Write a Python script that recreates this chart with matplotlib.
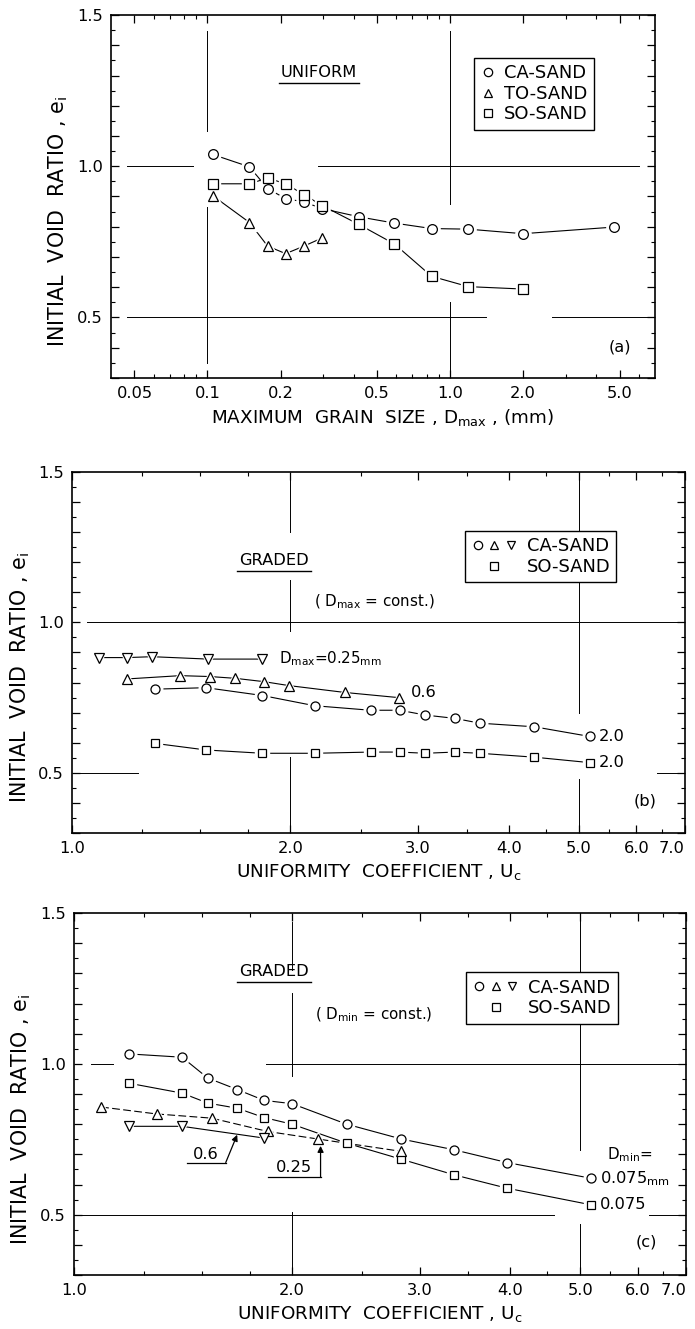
import matplotlib
matplotlib.use("Agg")
import matplotlib.pyplot as plt
from matplotlib import font_manager
from matplotlib.legend_handler import HandlerTuple
from matplotlib.lines import Line2D
from matplotlib.ticker import (FixedFormatter, FixedLocator, FuncFormatter,
                               MultipleLocator, NullFormatter)


def pick_font():
    for name in ("Liberation Sans Narrow", "DejaVu Sans"):
        try:
            font_manager.findfont(font_manager.FontProperties(family=name),
                                  fallback_to_default=False)
            return name
        except ValueError:
            continue
    return "DejaVu Sans"


FONT = pick_font()
K = 1.0 if FONT == "Liberation Sans Narrow" else 0.78

plt.rcParams["font.family"] = [FONT, "DejaVu Sans"]
plt.rcParams["mathtext.fontset"] = "custom"
plt.rcParams["mathtext.rm"] = FONT
plt.rcParams["mathtext.it"] = FONT

# ---------------------------------------------------------------------------
# (a) uniform sands: void ratio vs maximum grain size
# ---------------------------------------------------------------------------
dmax_ca = [0.105, 0.149, 0.177, 0.210, 0.250, 0.297, 0.420, 0.590, 0.840, 1.19, 2.0, 4.76]
e_ca_uni = [1.039, 0.998, 0.926, 0.893, 0.882, 0.860, 0.833, 0.812, 0.794, 0.792, 0.777, 0.799]
dmax_to = [0.105, 0.149, 0.177, 0.210, 0.250, 0.297]
e_to_uni = [0.903, 0.814, 0.736, 0.711, 0.736, 0.763]
dmax_so = [0.105, 0.149, 0.177, 0.210, 0.250, 0.297, 0.420, 0.590, 0.840, 1.19, 2.0]
e_so_uni = [0.942, 0.942, 0.961, 0.942, 0.906, 0.870, 0.808, 0.743, 0.636, 0.602, 0.594]

# ---------------------------------------------------------------------------
# (b) graded, Dmax = const.
# ---------------------------------------------------------------------------
uc_b_025 = [1.09, 1.19, 1.29, 1.54, 1.83]
e_b_025 = [0.883, 0.883, 0.886, 0.878, 0.878]
uc_b_06 = [1.19, 1.41, 1.55, 1.68, 1.84, 1.99, 2.38, 2.82]
e_b_06 = [0.812, 0.823, 0.820, 0.814, 0.803, 0.790, 0.767, 0.750]
uc_b_20 = [1.30, 1.53, 1.83, 2.16, 2.58, 2.83, 3.07, 3.37, 3.65, 4.34, 5.17]
e_b_ca20 = [0.778, 0.783, 0.757, 0.723, 0.708, 0.708, 0.692, 0.681, 0.665, 0.653, 0.621]
e_b_so20 = [0.598, 0.576, 0.565, 0.565, 0.569, 0.569, 0.565, 0.569, 0.565, 0.552, 0.534]

# ---------------------------------------------------------------------------
# (c) graded, Dmin = const.
# ---------------------------------------------------------------------------
uc_c = [1.19, 1.41, 1.53, 1.68, 1.83, 2.0, 2.38, 2.83, 3.35, 3.96, 5.17]
e_c_ca = [1.033, 1.022, 0.953, 0.915, 0.879, 0.868, 0.800, 0.751, 0.715, 0.673, 0.621]
e_c_so = [0.936, 0.903, 0.870, 0.853, 0.822, 0.800, 0.737, 0.684, 0.632, 0.588, 0.533]
uc_c_06 = [1.09, 1.30, 1.55, 1.85, 2.17, 2.83]
e_c_06 = [0.857, 0.834, 0.820, 0.776, 0.751, 0.710]
uc_c_025 = [1.19, 1.41, 1.83]
e_c_025 = [0.793, 0.793, 0.754]

# tick values / labels
a_xmajor = [0.05, 0.1, 0.2, 0.5, 1.0, 2.0, 5.0]
a_xlabels = ["0.05", "0.1", "0.2", "0.5", "1.0", "2.0", "5.0"]
a_xminor = [0.06, 0.07, 0.08, 0.09, 0.3, 0.4, 0.6, 0.7, 0.8, 0.9, 3, 4, 6]
uc_major = [1, 2, 3, 4, 5, 6, 7]
uc_labels = ["1.0", "2.0", "3.0", "4.0", "5.0", "6.0", "7.0"]
uc_minor = [1.25, 1.5, 1.75, 2.5, 3.5, 4.5, 5.5, 6.5]

YLABEL = "INITIAL  VOID  RATIO , e$_{\\rm i}$"


def style_axes(ax, xlim, xmajor, xlabels, xminor):
    ax.set_xscale("log")
    ax.set_xlim(*xlim)
    ax.set_ylim(0.3, 1.5)
    ax.xaxis.set_major_locator(FixedLocator(xmajor))
    ax.xaxis.set_major_formatter(FixedFormatter(xlabels))
    ax.xaxis.set_minor_locator(FixedLocator(xminor))
    ax.xaxis.set_minor_formatter(NullFormatter())
    ax.yaxis.set_major_locator(MultipleLocator(0.1))
    ax.yaxis.set_minor_locator(MultipleLocator(0.05))
    ax.yaxis.set_major_formatter(FuncFormatter(
        lambda v, p: f"{v:.1f}" if abs(v * 2 - round(v * 2)) < 1e-6 else ""))
    ax.tick_params(which="both", direction="in", top=True, right=True,
                   labelsize=15 * K)
    ax.tick_params(which="major", length=6, width=0.9, pad=6)
    ax.tick_params(which="minor", length=3, width=0.8)
    for s in ax.spines.values():
        s.set_linewidth(1.2)
    ax.set_ylabel(YLABEL, fontsize=19 * K)


def grid_h(ax, y, spans):
    for x0, x1 in spans:
        ax.axhline(y, x0, x1, color="black", lw=0.7, zorder=1)


def grid_v(ax, x, spans):
    for y0, y1 in spans:
        ax.axvline(x, y0, y1, color="black", lw=0.7, zorder=1)


def series(ax, x, y, marker, ms=6.5, ls="-"):
    ax.plot(x, y, color="black", lw=0.8, ls=ls, zorder=2)
    ax.plot(x, y, ls="none", marker=marker, ms=ms + 4, mfc="white",
            mec="white", zorder=3)
    ax.plot(x, y, ls="none", marker=marker, ms=ms, mfc="white",
            mec="black", mew=0.9, zorder=4)


def underlined(ax, x, y, s, size):
    t = ax.text(x, y, s, ha="center", va="center", fontsize=size, zorder=5)
    ax.figure.canvas.draw()
    bb = t.get_window_extent()
    inv = ax.transAxes.inverted()
    (x0, y0), (x1, _) = inv.transform([(bb.x0 - 2, bb.y0 - 3), (bb.x1 + 2, bb.y0)])
    ax.plot([x0, x1], [y0, y0], transform=ax.transAxes, color="black",
            lw=1.0, clip_on=False)


def marker_handle(m):
    return Line2D([], [], ls="none", marker=m, ms=6, mfc="white", mec="black",
                  mew=0.9)


def legend(ax, handles, labels, anchor, hlen, **kw):
    leg = ax.legend(handles, labels, loc="upper left", bbox_to_anchor=anchor,
                    borderaxespad=0, fancybox=False, edgecolor="black",
                    framealpha=1, fontsize=16.5 * K, handlelength=hlen,
                    handletextpad=0.5, labelspacing=0.15, borderpad=0.35, **kw)
    leg.get_frame().set_linewidth(1.0)


fig = plt.figure(figsize=(6.95, 13.29), dpi=100)
ax_a = fig.add_axes([0.1597, 0.7156, 0.7827, 0.2731])
ax_b = fig.add_axes([0.1036, 0.3732, 0.8820, 0.2717])
ax_c = fig.add_axes([0.1065, 0.0406, 0.8806, 0.2724])

# ---------------- panel (a) ----------------
style_axes(ax_a, (0.04, 7), a_xmajor, a_xlabels, a_xminor)
ax_a.yaxis.set_label_coords(-0.075, 0.43)
ax_a.set_xlabel("MAXIMUM  GRAIN  SIZE , D$_{\\rm max}$ , (mm)",
                fontsize=17 * K, labelpad=4)
grid_h(ax_a, 1.0, [(0.03, 0.15), (0.38, 0.97)])
grid_h(ax_a, 0.5, [(0.03, 0.69), (0.81, 0.99)])
grid_v(ax_a, 0.1, [(0.04, 0.47), (0.68, 0.955)])
grid_v(ax_a, 1.0, [(0.02, 0.21), (0.48, 0.955)])
series(ax_a, dmax_ca, e_ca_uni, "o", ms=7)
series(ax_a, dmax_to, e_to_uni, "^", ms=7)
series(ax_a, dmax_so, e_so_uni, "s", ms=6.5)
legend(ax_a, [marker_handle("o"), marker_handle("^"), marker_handle("s")],
       ["CA-SAND", "TO-SAND", "SO-SAND"], (0.668, 0.882), 0.8)
underlined(ax_a, 0.288, 1.309, "UNIFORM", 15 * K)
ax_a.text(0.935, 0.085, "(a)", transform=ax_a.transAxes, ha="center",
          va="center", fontsize=15 * K)

# ---------------- panel (b) ----------------
style_axes(ax_b, (1, 7), uc_major, uc_labels, uc_minor)
ax_b.yaxis.set_label_coords(-0.065, 0.43)
ax_b.set_xlabel("UNIFORMITY  COEFFICIENT , U$_{\\rm c}$", fontsize=17 * K,
                labelpad=4)
grid_h(ax_b, 1.0, [(0.024, 0.995)])
grid_h(ax_b, 0.5, [(0.013, 0.108), (0.954, 1.0)])
grid_v(ax_b, 2.0, [(0.833, 0.99), (0.56, 0.70), (0.02, 0.21)])
grid_v(ax_b, 5.0, [(0.0, 0.15), (0.333, 1.0)])
series(ax_b, uc_b_025, e_b_025, "v")
series(ax_b, uc_b_06, e_b_06, "^")
series(ax_b, uc_b_20, e_b_ca20, "o")
series(ax_b, uc_b_20, e_b_so20, "s", ms=6)
legend(ax_b, [(marker_handle("o"), marker_handle("^"), marker_handle("v")),
              marker_handle("s")],
       ["CA-SAND", "SO-SAND"], (0.641, 0.836), 2.6,
       handler_map={tuple: HandlerTuple(ndivide=None, pad=0.2)})
underlined(ax_b, 1.90, 1.207, "GRADED", 15 * K)
ax_b.text(2.61, 1.069, "( D$_{\\rm max}$ = const.)", ha="center", va="center",
          fontsize=14 * K)
ax_b.text(uc_b_025[-1] * 1.055, e_b_025[-1], "D$_{\\rm max}$=0.25$_{\\rm mm}$",
          ha="left", va="center", fontsize=14 * K)
ax_b.text(uc_b_06[-1] * 1.04, e_b_06[-1] + 0.017, "0.6", ha="left",
          va="center", fontsize=15 * K)
ax_b.text(uc_b_20[-1] * 1.03, e_b_ca20[-1], "2.0", ha="left", va="center",
          fontsize=15 * K)
ax_b.text(uc_b_20[-1] * 1.03, e_b_so20[-1], "2.0", ha="left", va="center",
          fontsize=15 * K)
ax_b.text(0.935, 0.09, "(b)", transform=ax_b.transAxes, ha="center",
          va="center", fontsize=15 * K)

# ---------------- panel (c) ----------------
style_axes(ax_c, (1, 7), uc_major, uc_labels, uc_minor)
ax_c.yaxis.set_label_coords(-0.067, 0.43)
ax_c.set_xlabel("UNIFORMITY  COEFFICIENT , U$_{\\rm c}$", fontsize=17 * K,
                labelpad=4)
grid_h(ax_c, 1.0, [(0.028, 0.064), (0.314, 1.0)])
grid_h(ax_c, 0.5, [(0.0, 0.785), (0.94, 1.0)])
grid_v(ax_c, 2.0, [(0.842, 0.975), (0.55, 0.78), (0.0, 0.175)])
grid_v(ax_c, 5.0, [(0.345, 1.0), (0.0, 0.14)])
series(ax_c, uc_c, e_c_ca, "o")
series(ax_c, uc_c, e_c_so, "s", ms=6)
series(ax_c, uc_c_06, e_c_06, "^", ls=(0, (7, 3)))
series(ax_c, uc_c_025, e_c_025, "v")
legend(ax_c, [(marker_handle("o"), marker_handle("^"), marker_handle("v")),
              marker_handle("s")],
       ["CA-SAND", "SO-SAND"], (0.641, 0.836), 2.6,
       handler_map={tuple: HandlerTuple(ndivide=None, pad=0.2)})
underlined(ax_c, 1.89, 1.306, "GRADED", 15 * K)
ax_c.text(2.59, 1.162, "( D$_{\\rm min}$ = const.)", ha="center", va="center",
          fontsize=14 * K)
ax_c.text(5.45, 0.70, "D$_{\\rm min}$=", ha="left", va="center", fontsize=14 * K)
ax_c.text(uc_c[-1] * 1.03, e_c_ca[-1], "0.075$_{\\rm mm}$", ha="left",
          va="center", fontsize=15 * K)
ax_c.text(uc_c[-1] * 1.03, e_c_so[-1], "0.075", ha="left", va="center",
          fontsize=15 * K)
# leader lines for the 0.6 and 0.25 curves
ax_c.text(1.52, 0.700, "0.6", ha="center", va="center", fontsize=15 * K)
ax_c.plot([1.43, 1.62], [0.673, 0.673], color="black", lw=0.9)
ax_c.annotate("", xy=(1.68, 0.765), xytext=(1.62, 0.673),
              arrowprops=dict(arrowstyle="-|>", lw=0.9, color="black",
                              shrinkA=0, shrinkB=0, mutation_scale=9))
ax_c.text(2.01, 0.657, "0.25", ha="center", va="center", fontsize=15 * K)
ax_c.plot([1.85, 2.19], [0.624, 0.624], color="black", lw=0.9)
ax_c.annotate("", xy=(2.19, 0.728), xytext=(2.19, 0.624),
              arrowprops=dict(arrowstyle="-|>", lw=0.9, color="black",
                              shrinkA=0, shrinkB=0, mutation_scale=9))
ax_c.text(0.935, 0.09, "(c)", transform=ax_c.transAxes, ha="center",
          va="center", fontsize=15 * K)

# keep the right-most "7.0" label inside the figure
fig.canvas.draw()
for ax in (ax_b, ax_c):
    for lbl in ax.get_xticklabels():
        if lbl.get_text() == "7.0":
            lbl.set_horizontalalignment("right")

fig.savefig("out.png", dpi=100)
